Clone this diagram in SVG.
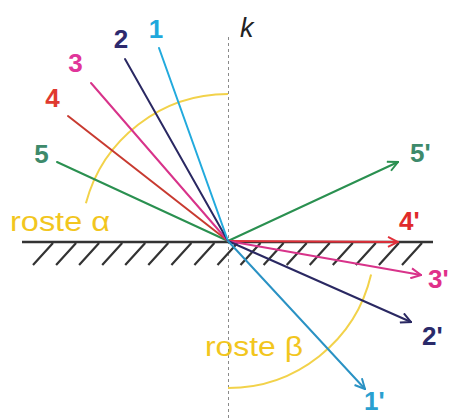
<svg xmlns="http://www.w3.org/2000/svg" width="449" height="418" viewBox="0 0 449 418">
<style>
text{font-family:"Liberation Sans",Arial,sans-serif;font-size:27px}
.num{font-weight:bold;font-size:26px}
.ray{fill:none;stroke-width:2;stroke-linecap:round}
.arc{fill:none;stroke:#f2d24a;stroke-width:2}
.yl{fill:#f2c61e}
</style>
<defs>
<marker id="ah5" viewBox="0 0 12 12" refX="11" refY="6" markerWidth="12" markerHeight="12" markerUnits="userSpaceOnUse" orient="auto"><path d="M1,1 L11,6 L1,11" fill="none" stroke="#2a9050" stroke-width="2"/></marker>
<marker id="ah4" viewBox="0 0 12 12" refX="11" refY="6" markerWidth="12" markerHeight="12" markerUnits="userSpaceOnUse" orient="auto"><path d="M1,1 L11,6 L1,11" fill="none" stroke="#e0303a" stroke-width="2"/></marker>
<marker id="ah3" viewBox="0 0 12 12" refX="11" refY="6" markerWidth="12" markerHeight="12" markerUnits="userSpaceOnUse" orient="auto"><path d="M1,1 L11,6 L1,11" fill="none" stroke="#d8338a" stroke-width="2"/></marker>
<marker id="ah2" viewBox="0 0 12 12" refX="11" refY="6" markerWidth="12" markerHeight="12" markerUnits="userSpaceOnUse" orient="auto"><path d="M1,1 L11,6 L1,11" fill="none" stroke="#2a2862" stroke-width="2"/></marker>
<marker id="ah1" viewBox="0 0 12 12" refX="11" refY="6" markerWidth="12" markerHeight="12" markerUnits="userSpaceOnUse" orient="auto"><path d="M1,1 L11,6 L1,11" fill="none" stroke="#2a92c4" stroke-width="2"/></marker>
</defs>
<rect width="449" height="418" fill="#fff"/>
<g id="normal-k">
<line x1="228.5" y1="37" x2="228.5" y2="418" stroke="#8a8a8a" stroke-width="1" stroke-dasharray="3,3"/>
<text x="240" y="37" font-style="italic" fill="#222">k</text>
</g>
<g id="surface">
<line x1="22" y1="242" x2="433" y2="242" stroke="#333" stroke-width="2.5"/>
<path d="M53,243 l-20,22 M76.1,243 l-20,22 M99.1,243 l-20,22 M122.2,243 l-20,22 M145.2,243 l-20,22 M168.3,243 l-20,22 M191.4,243 l-20,22 M214.4,243 l-20,22 M237.5,243 l-20,22 M260.5,243 l-20,22 M283.6,243 l-20,22 M306.7,243 l-20,22 M329.7,243 l-20,22 M352.8,243 l-20,22 M375.8,243 l-20,22 M398.9,243 l-20,22 M422,243 l-20,22" stroke="#333" stroke-width="2.2" fill="none"/>
</g>
<g id="angle-alpha">
<path class="arc" d="M228,94 A147,147 0 0 0 85.9,203.3"/>
<text class="yl" x="10" y="231" textLength="100" lengthAdjust="spacingAndGlyphs">roste α</text>
</g>
<g id="angle-beta">
<path class="arc" d="M371.1,274.6 A147,147 0 0 1 228,388"/>
<text class="yl" x="205" y="356" textLength="98" lengthAdjust="spacingAndGlyphs">roste β</text>
</g>
<g id="connectors">
<line class="ray" x1="57" y1="162" x2="228" y2="241" stroke="#2a9050"/>
<line class="ray" x1="68" y1="116" x2="228" y2="241" stroke="#c83a30"/>
<line class="ray" x1="91" y1="83" x2="228" y2="241" stroke="#d8338a"/>
<line class="ray" x1="125" y1="59" x2="228" y2="241" stroke="#2a2862"/>
<line class="ray" x1="159" y1="48" x2="228" y2="241" stroke="#22aadd"/>
<line class="ray" x1="228" y1="241" x2="398" y2="162" stroke="#2a9050" marker-end="url(#ah5)"/>
<line class="ray" x1="228" y1="241" x2="398" y2="242" stroke="#e0303a" stroke-width="3" marker-end="url(#ah4)"/>
<line class="ray" x1="228" y1="241" x2="421" y2="275" stroke="#d8338a" marker-end="url(#ah3)"/>
<line class="ray" x1="228" y1="241" x2="411" y2="322" stroke="#2a2862" marker-end="url(#ah2)"/>
<line class="ray" x1="228" y1="241" x2="365" y2="389" stroke="#2a92c4" marker-end="url(#ah1)"/>
</g>
<g id="label-1"><text class="num" x="156" y="38" text-anchor="middle" fill="#1fa8dc">1</text></g>
<g id="label-2"><text class="num" x="121" y="48" text-anchor="middle" fill="#2d2a6e">2</text></g>
<g id="label-3"><text class="num" x="75.5" y="72" text-anchor="middle" fill="#e0359a">3</text></g>
<g id="label-4"><text class="num" x="52.5" y="107" text-anchor="middle" fill="#e03a2f">4</text></g>
<g id="label-5"><text class="num" x="41.5" y="163" text-anchor="middle" fill="#3d8a6b">5</text></g>
<g id="label-5p"><text class="num" x="410" y="162" fill="#3d8a6b">5'</text></g>
<g id="label-4p"><text class="num" x="399" y="230" fill="#e02a2a">4'</text></g>
<g id="label-3p"><text class="num" x="428" y="288" fill="#e0308a">3'</text></g>
<g id="label-2p"><text class="num" x="422" y="345" fill="#2a2a6a">2'</text></g>
<g id="label-1p"><text class="num" x="364" y="410" fill="#2aa0d0">1'</text></g>
</svg>
